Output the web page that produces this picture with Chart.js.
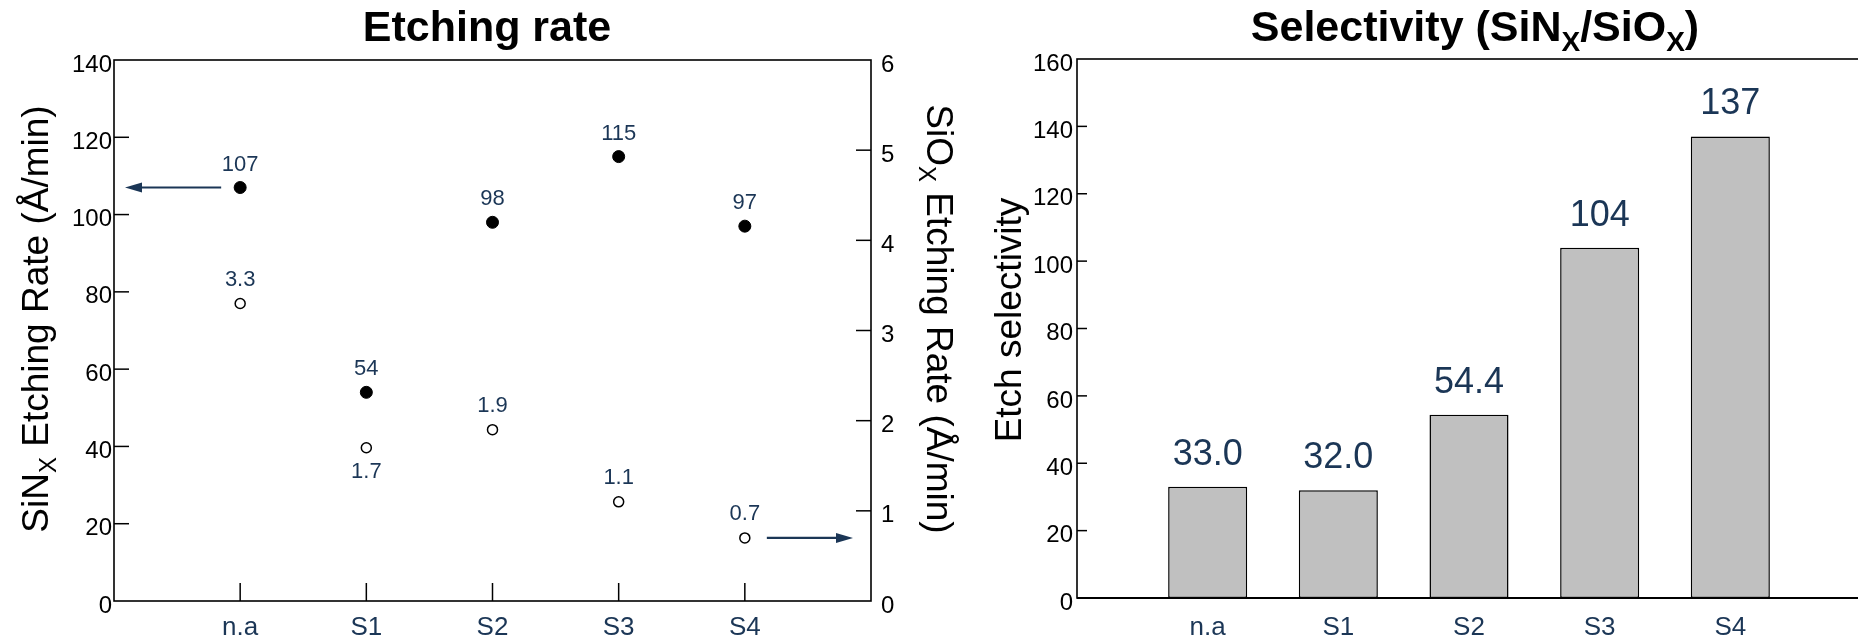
<!DOCTYPE html>
<html>
<head>
<meta charset="utf-8">
<script src="https://cdn.jsdelivr.net/npm/chart.js@4.4.0/dist/chart.umd.min.js"></script>
<style>
  html, body { margin: 0; padding: 0; background: #fff; overflow: hidden; width: 1858px; height: 643px; }
  .panel { position: absolute; top: 0; }
</style>
</head>
<body>
<div class="panel" style="left:0"><canvas id="rateChart" width="975" height="643"></canvas></div>
<div class="panel" style="left:975px"><canvas id="selChart" width="890" height="643"></canvas></div>
<script>
// data
const categories = ['n.a', 'S1', 'S2', 'S3', 'S4'];
const sinxRate = [107, 54, 98, 115, 97];        // Å/min, left axis
const sioxRate = [3.3, 1.7, 1.9, 1.1, 0.7];     // Å/min, right axis
const selectivity = [33.0, 32.0, 54.4, 104, 137];

const sinxTicks = [0, 20, 40, 60, 80, 100, 120, 140];
const sioxTicks = [0, 1, 2, 3, 4, 5, 6];
const selTicks = [0, 20, 40, 60, 80, 100, 120, 140, 160];

const FONT = "'Liberation Sans', Arial, sans-serif";
const NAVY = '#1b3656';

Chart.defaults.font.family = FONT;
Chart.defaults.color = '#000';

// text with subscripts, centred on (x, y), optionally rotated
function drawRich(ctx, parts, x, y, rot, size, weight) {
  const fontFor = sub => `${weight} ${sub ? Math.round(size * 0.65) : size}px ${FONT}`;
  let total = 0;
  const widths = parts.map(p => {
    ctx.font = fontFor(p[1]);
    const w = ctx.measureText(p[0]).width;
    total += w;
    return w;
  });
  ctx.save();
  ctx.translate(x, y);
  ctx.rotate(rot);
  ctx.textAlign = 'left';
  ctx.textBaseline = 'alphabetic';
  ctx.fillStyle = '#000';
  let cx = -total / 2;
  const base = size * 0.36;
  parts.forEach((p, i) => {
    ctx.font = fontFor(p[1]);
    ctx.fillText(p[0], cx, base + (p[1] ? size * 0.22 : 0));
    cx += widths[i];
  });
  ctx.restore();
}

function drawArrow(ctx, x1, x2, y) {
  const dir = Math.sign(x2 - x1);
  ctx.beginPath();
  ctx.moveTo(x1, y);
  ctx.lineTo(x2 - dir * 10, y);
  ctx.stroke();
  ctx.beginPath();
  ctx.moveTo(x2, y);
  ctx.lineTo(x2 - dir * 17, y - 5);
  ctx.lineTo(x2 - dir * 17, y + 5);
  ctx.closePath();
  ctx.fill();
}

const decor = {
  id: 'decor',
  afterDatasetsDraw(chart, args, opts) {
    const ctx = chart.ctx;
    const a = chart.chartArea;
    ctx.save();

    // tick marks pointing into the plot
    ctx.strokeStyle = '#000';
    ctx.lineWidth = 1.5;
    Object.entries(opts.tickLen || {}).forEach(([id, len]) => {
      const s = chart.scales[id];
      s.ticks.forEach(t => {
        if (t.value <= s.min || t.value >= s.max) return;
        const p = s.getPixelForValue(t.value);
        ctx.beginPath();
        if (s.isHorizontal()) { ctx.moveTo(p, a.bottom); ctx.lineTo(p, a.bottom - len); }
        else if (s.position === 'left') { ctx.moveTo(a.left, p); ctx.lineTo(a.left + len, p); }
        else { ctx.moveTo(a.right, p); ctx.lineTo(a.right - len, p); }
        ctx.stroke();
      });
    });

    // frame
    ctx.lineWidth = opts.frameWidth;
    ctx.strokeRect(a.left, a.top, a.right - a.left, a.bottom - a.top);
    if (opts.baseWidth) {
      ctx.lineWidth = opts.baseWidth;
      ctx.beginPath();
      ctx.moveTo(a.left, a.bottom);
      ctx.lineTo(a.right, a.bottom);
      ctx.stroke();
    }

    // value labels
    ctx.fillStyle = NAVY;
    ctx.textAlign = 'center';
    ctx.textBaseline = 'middle';
    ctx.font = `${opts.labelSize}px ${FONT}`;
    chart.data.datasets.forEach((ds, di) => {
      const meta = chart.getDatasetMeta(di);
      meta.data.forEach((el, i) => {
        let y = el.y - ds.labelGap;
        // put the label under the point if another series' point sits where it would go
        const clash = chart.data.datasets.some((o, oi) => {
          if (oi === di) return false;
          const other = chart.getDatasetMeta(oi).data[i];
          return other && Math.abs(other.y - y) < 40;
        });
        if (clash) y = el.y + ds.labelGap;
        ctx.fillText(ds.format(ds.data[i].y), el.x, y);
      });
    });

    // arrows pointing at the axis each series belongs to
    ctx.strokeStyle = NAVY;
    ctx.lineWidth = 2.2;
    (opts.arrows || []).forEach(ar => {
      const el = chart.getDatasetMeta(ar.dataset).data[ar.index];
      if (ar.side === 'left') drawArrow(ctx, el.x - 19, a.left + 11, el.y);
      else drawArrow(ctx, el.x + 22, a.right - 18, el.y);
    });

    // titles
    (opts.titles || []).forEach(t => {
      drawRich(ctx, t.parts, t.x, t.y, t.rot || 0, t.size, t.bold ? 'bold' : 'normal');
    });
    ctx.restore();
  }
};

function fixWidth(w) {
  return s => { s.width = w; s.paddingTop = 0; s.paddingBottom = 0; };
}
function fixHeight(h) {
  return s => { s.height = h; s.paddingLeft = 0; s.paddingRight = 0; };
}
function useTicks(list) {
  return s => { s.ticks = list.map(v => ({ value: v })); };
}

const xScale = (height, pad) => ({
  type: 'linear',
  min: 0,
  max: categories.length + 1,
  offset: false,
  grid: { display: false, drawTicks: false },
  border: { display: false },
  afterBuildTicks: useTicks(categories.map((c, i) => i + 1)),
  afterFit: fixHeight(height),
  ticks: {
    callback: v => categories[v - 1] ?? '',
    color: NAVY,
    font: { size: 26 },
    padding: pad,
    autoSkip: false,
    maxRotation: 0
  }
});

const yScale = (list, position, width, pad) => ({
  type: 'linear',
  position: position,
  min: list[0],
  max: list[list.length - 1],
  grid: { display: false, drawTicks: false },
  border: { display: false },
  afterBuildTicks: useTicks(list),
  afterFit: fixWidth(width),
  ticks: { font: { size: 24 }, color: '#000', padding: pad, labelOffset: 5 }
});

// Etching rate
new Chart(document.getElementById('rateChart'), {
  type: 'scatter',
  data: {
    datasets: [{
      label: 'SiNx',
      data: categories.map((c, i) => ({ x: i + 1, y: sinxRate[i] })),
      yAxisID: 'y',
      pointRadius: 6,
      pointBackgroundColor: '#000',
      pointBorderColor: '#000',
      pointBorderWidth: 1,
      labelGap: 23,
      format: v => v.toFixed(0)
    }, {
      label: 'SiOx',
      data: categories.map((c, i) => ({ x: i + 1, y: sioxRate[i] })),
      yAxisID: 'y1',
      pointRadius: 5,
      pointBackgroundColor: '#fff',
      pointBorderColor: '#000',
      pointBorderWidth: 1.5,
      labelGap: 24,
      format: v => v.toFixed(1)
    }]
  },
  options: {
    responsive: false,
    animation: false,
    layout: { padding: { top: 60, left: 0, right: 0, bottom: 0 } },
    plugins: {
      legend: { display: false },
      tooltip: { enabled: false },
      decor: {
        tickLen: { x: 18, y: 15, y1: 15 },
        frameWidth: 1.6,
        labelSize: 22,
        arrows: [
          { dataset: 0, index: 0, side: 'left' },
          { dataset: 1, index: 4, side: 'right' }
        ],
        titles: [
          { parts: [['Etching rate']], x: 487, y: 26, size: 43, bold: true },
          { parts: [['SiN'], ['X', true], [' Etching Rate (Å/min)']], x: 35, y: 319, rot: -Math.PI / 2, size: 37 },
          { parts: [['SiO'], ['X', true], [' Etching Rate (Å/min)']], x: 940, y: 319, rot: Math.PI / 2, size: 37 }
        ]
      }
    },
    scales: {
      x: xScale(42, 11),
      y: yScale(sinxTicks, 'left', 114, 2),
      y1: yScale(sioxTicks, 'right', 104, 10)
    }
  },
  plugins: [decor]
});

// Selectivity
new Chart(document.getElementById('selChart'), {
  type: 'bar',
  data: {
    datasets: [{
      label: 'Selectivity',
      data: categories.map((c, i) => ({ x: i + 1, y: selectivity[i] })),
      backgroundColor: '#c0c0c0',
      borderColor: '#000',
      borderWidth: 1.5,
      borderSkipped: false,
      barPercentage: 0.605,
      categoryPercentage: 1,
      labelGap: 32,
      format: v => v >= 100 ? v.toFixed(0) : v.toFixed(1)
    }]
  },
  options: {
    responsive: false,
    animation: false,
    layout: { padding: { top: 59, left: 0, right: 4, bottom: 0 } },
    plugins: {
      legend: { display: false },
      tooltip: { enabled: false },
      decor: {
        tickLen: { y: 10 },
        frameWidth: 1.6,
        baseWidth: 2.2,
        labelSize: 36,
        titles: [
          { parts: [['Selectivity (SiN'], ['X', true], ['/SiO'], ['X', true], [')']], x: 500, y: 26, size: 43, bold: true },
          { parts: [['Etch selectivity']], x: 33, y: 320, rot: -Math.PI / 2, size: 37 }
        ]
      }
    },
    scales: {
      x: xScale(45, 14),
      y: yScale(selTicks, 'left', 102, 4)
    }
  },
  plugins: [decor]
});
</script>
</body>
</html>
